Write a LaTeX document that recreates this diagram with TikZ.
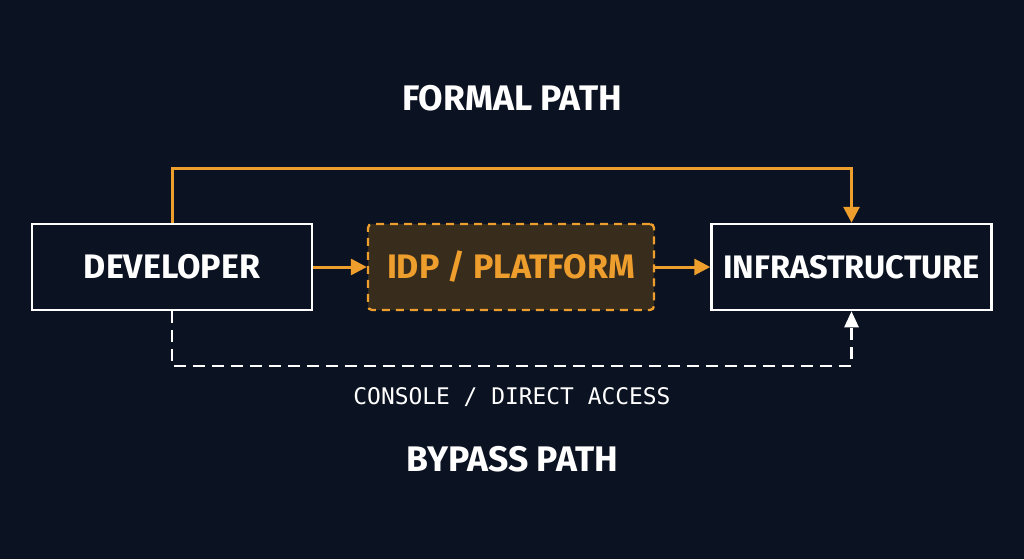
\documentclass[tikz,border=0pt]{standalone}
\usepackage{fontspec}
\setmainfont{Fira Sans}
\setmonofont{DejaVu Sans Mono}
\usetikzlibrary{arrows.meta}
\definecolor{bgc}{HTML}{0B1221}
\definecolor{orng}{HTML}{EE9E2C}
\definecolor{idpfill}{HTML}{382C1C}
\tikzset{
  box/.style={draw=white, line width=2.5pt, minimum width=280pt, minimum height=86pt, inner sep=0pt,
    text=white, font=\fontsize{34}{36}\selectfont\bfseries},
  idpbox/.style={draw=orng, fill=idpfill, dash pattern=on 8pt off 6pt, line width=2.3pt, rounded corners=4pt,
    minimum width=286pt, minimum height=86pt, inner sep=0pt, text=orng, font=\fontsize{34}{36}\selectfont\bfseries},
  title/.style={text=white, font=\fontsize{35.5}{38}\selectfont\bfseries},
  monolabel/.style={text=white, font=\fontsize{22.9}{26}\selectfont\ttfamily},
  formal/.style={draw=orng, line width=3pt, -{Triangle[length=16pt,width=16pt]}},
  bypass/.style={draw=white, line width=2.5pt, dash pattern=on 12pt off 7pt, -{Triangle[length=16pt,width=14pt]}}
}
\begin{document}
\begin{tikzpicture}[x=1pt,y=-1pt]
\fill[bgc] (0,0) rectangle (1024,559);
\useasboundingbox (0,0) rectangle (1024,559);
\node[title] (ftitle) at (512,98) {FORMAL PATH};
\node[title] (btitle) at (512,459) {BYPASS PATH};
\node[box] (dev) at (172,267) {DEVELOPER};
\node[idpbox] (idp) at (511,267) {IDP / PLATFORM};
\node[box, font=\fontsize{32.5}{36}\selectfont\bfseries] (infra) at (851.5,267) {INFRASTRUCTURE};
\node[monolabel] (lbl) at (512,397) {CONSOLE / DIRECT ACCESS};
\coordinate (topR) at (851.5,168);
\coordinate (botL) at (172,366);
\draw[formal] (dev.east) -- (idp.west);
\draw[formal] (idp.east) -- (infra.west);
\draw[formal] (dev.north) |- (topR) -- (infra.north);
\draw[bypass] (dev.south) -- (botL) -| (infra.south);
\end{tikzpicture}
\end{document}
